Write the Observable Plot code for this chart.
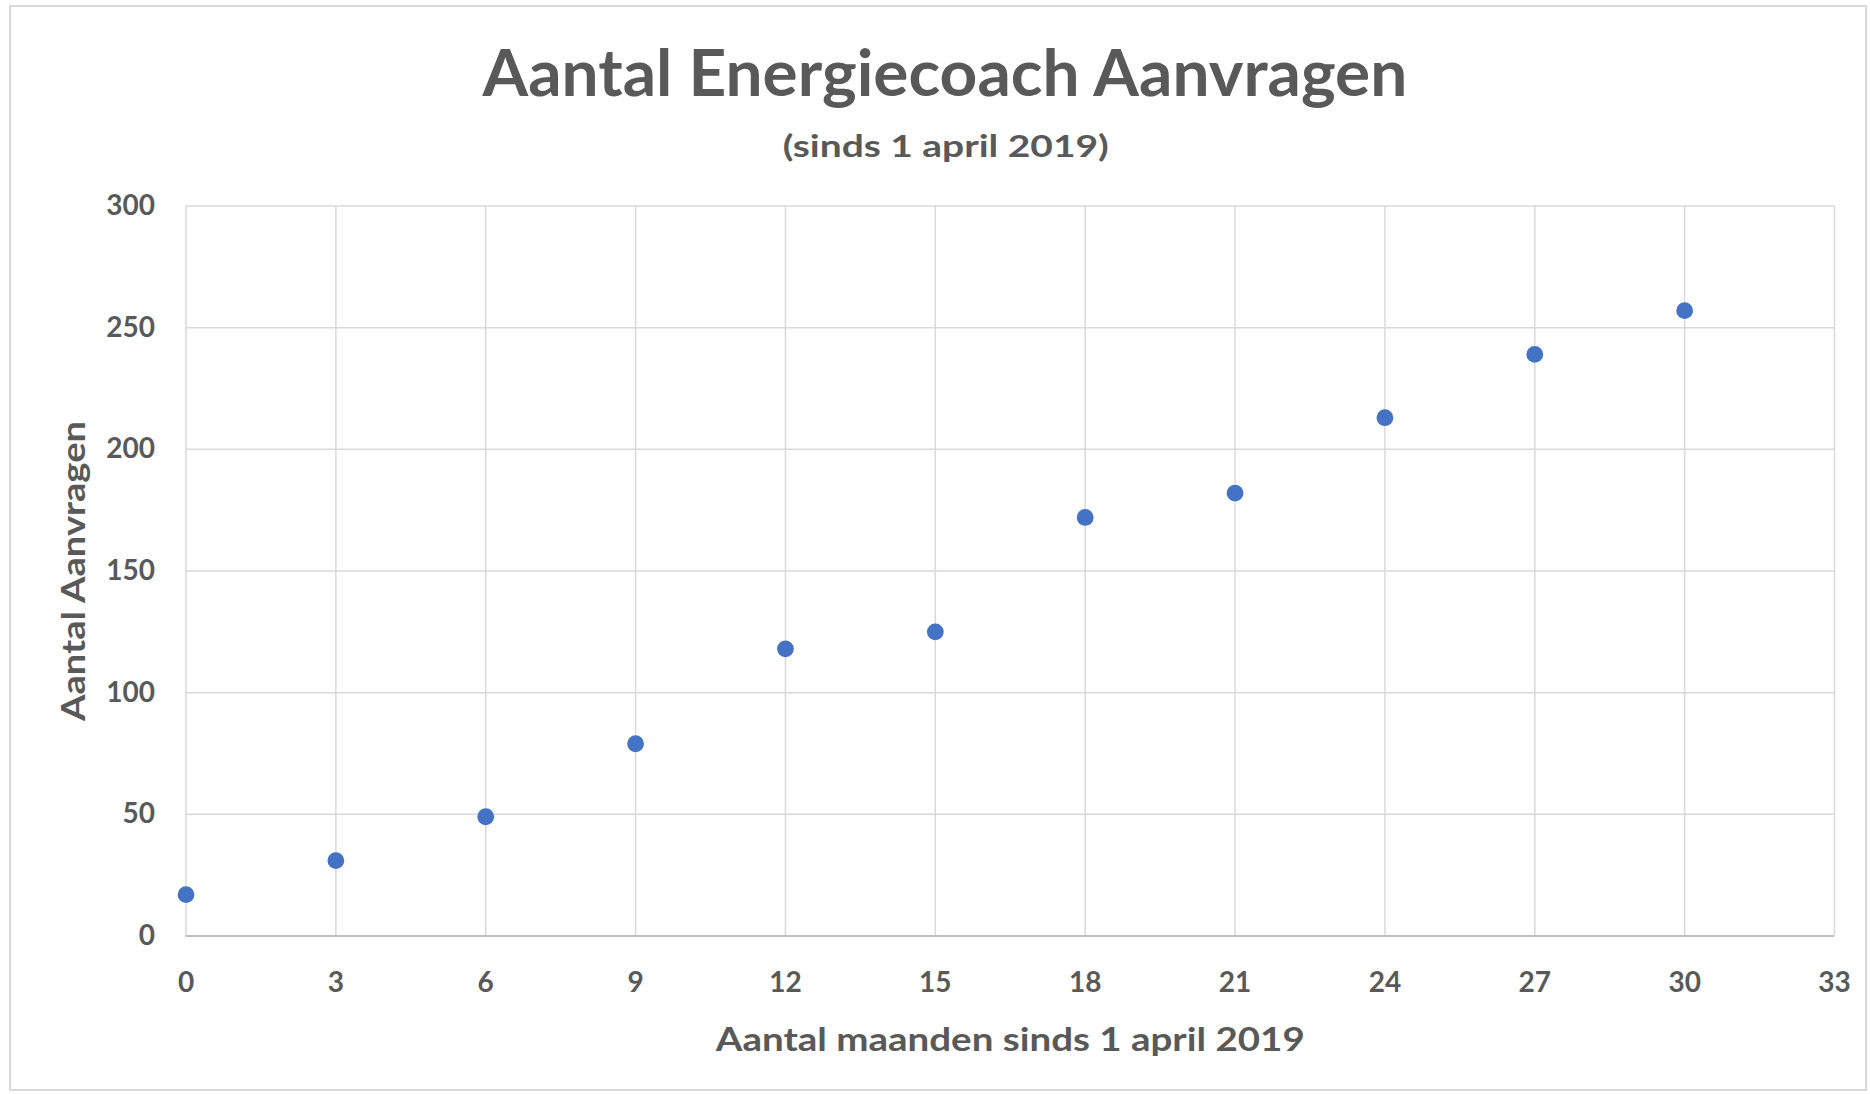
<!DOCTYPE html>
<html><head><meta charset="utf-8">
<script src="https://cdn.jsdelivr.net/npm/d3@7"></script>
<script src="https://cdn.jsdelivr.net/npm/@observablehq/plot@0.6"></script>
<style>
body{margin:0;background:#fff;}
#wrap{position:relative;width:1870px;height:1094px;overflow:hidden;font-family:Lato,"Open Sans",sans-serif;}
#frame{position:absolute;left:9px;top:5px;width:1858px;height:1086px;border:2px solid #d9d9d9;box-sizing:border-box;}
.t{position:absolute;left:0;top:0;white-space:nowrap;font-weight:700;color:#595959;line-height:1;transform-origin:center center;}
#plot{position:absolute;left:0;top:180px;}
</style></head>
<body><div id="wrap"><div id="frame"></div>
<div id="title" class="t">Aantal Energiecoach Aanvragen</div>
<div id="subtitle" class="t">(sinds 1 april 2019)</div>
<div id="plot"></div></div>
<script>
const months = [0, 3, 6, 9, 12, 15, 18, 21, 24, 27, 30];
const requests = [17, 31, 49, 79, 118, 125, 172, 182, 213, 239, 257];
const xTicks = [0, 3, 6, 9, 12, 15, 18, 21, 24, 27, 30, 33];
const yTicks = [0, 50, 100, 150, 200, 250, 300];
const xLabel = "Aantal maanden sinds 1 april 2019";
const yLabel = "Aantal Aanvragen";

function placeText(el, size, targetWidth, centerX, baseline) {
  el.style.fontSize = size + "px";
  const ctx = document.createElement("canvas").getContext("2d");
  ctx.font = `700 ${size}px Lato`;
  const m = ctx.measureText(el.textContent);
  const w = m.width;
  const asc = m.fontBoundingBoxAscent ?? size * 0.987;
  const desc = m.fontBoundingBoxDescent ?? size * 0.2465;
  const half = (size - (asc + desc)) / 2;
  el.style.left = (centerX - w / 2) + "px";
  el.style.top = (baseline - half - asc) + "px";
  el.style.transform = `scaleX(${targetWidth / w})`;
}
placeText(document.getElementById("title"), 65, 927, 946, 96.7);
placeText(document.getElementById("subtitle"), 30.5, 326, 946, 157);

const data = months.map((m, i) => ({m, v: requests[i]}));
const ink = "#595959";
const chart = Plot.plot({
  width: 1870, height: 914,
  marginTop: 25.5, marginLeft: 185.5, marginRight: 36, marginBottom: 158.5,
  style: {fontFamily: "Lato, 'Open Sans', sans-serif", color: ink, background: "transparent", overflow: "visible"},
  x: {domain: [0, 33], ticks: xTicks},
  y: {domain: [0, 300], ticks: yTicks},
  marks: [
    Plot.gridX(xTicks, {stroke: "#d9d9d9", strokeOpacity: 1, strokeWidth: 1.5}),
    Plot.gridY(yTicks, {stroke: "#d9d9d9", strokeOpacity: 1, strokeWidth: 1.5}),
    Plot.ruleY([0], {stroke: "#bfbfbf", strokeWidth: 2}),
    Plot.axisX(xTicks, {tickSize: 0, tickPadding: 36, fontSize: 28, fontWeight: 700, fill: ink, label: null}),
    Plot.axisY(yTicks, {tickSize: 0, tickPadding: 31, fontSize: 28, fontWeight: 700, fill: ink, label: null}),
    Plot.dot(data, {x: "m", y: "v", r: 8.4, fill: "#4472c4", stroke: "none"}),
    Plot.text([xLabel], {text: d => d, frameAnchor: "bottom", textAnchor: "middle", dy: 114.5, lineAnchor: "bottom", fontSize: 32.5, fontWeight: 700, fill: ink}),
    Plot.text([yLabel], {text: d => d, frameAnchor: "left", textAnchor: "middle", dx: -124.5, rotate: -90, lineAnchor: "top", fontSize: 32.5, fontWeight: 700, fill: ink})
  ]
});
for (const t of chart.querySelectorAll("text")) {
  const s = t.textContent;
  if (s === xLabel) { t.setAttribute("textLength", 589); t.setAttribute("lengthAdjust", "spacingAndGlyphs"); }
  if (s === yLabel) { t.setAttribute("textLength", 300); t.setAttribute("lengthAdjust", "spacingAndGlyphs"); }
}
document.getElementById("plot").appendChild(chart);
</script>
</body></html>
